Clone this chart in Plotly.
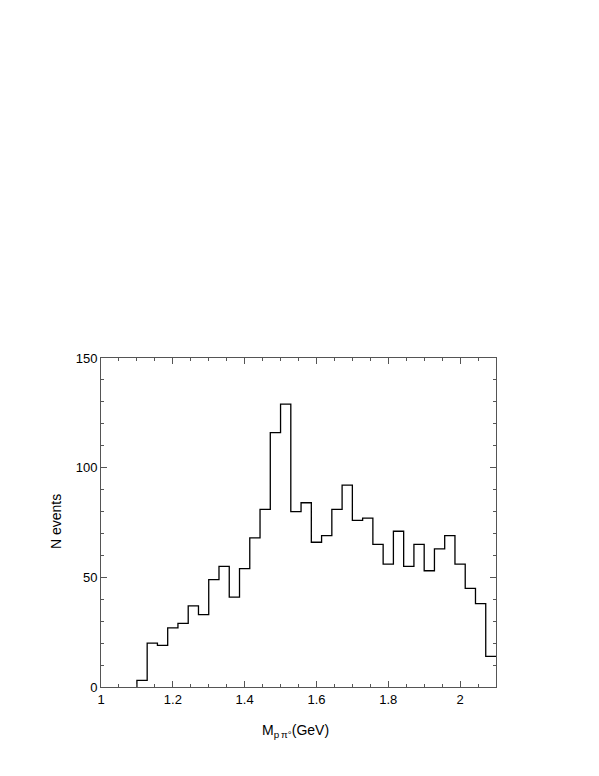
import numpy as np
import plotly.graph_objects as go

# Histogram of M(p pi0): 35 bins from 1.1 to 2.1 GeV
bin_low = 1.1
bin_high = 2.1
counts = [3, 20, 19, 27, 29, 37, 33, 49, 55, 41, 54, 68, 81, 116, 129,
          80, 84, 66, 69, 81, 92, 76, 77, 65, 56, 71, 55, 65, 53, 63,
          69, 56, 45, 38, 14]
x_tick_vals = [1, 1.2, 1.4, 1.6, 1.8, 2]
x_tick_text = ["1", "1.2", "1.4", "1.6", "1.8", "2"]
y_tick_vals = [0, 50, 100, 150]

n = len(counts)
edges = np.linspace(bin_low, bin_high, n + 1)
xs = [edges[0]] + list(edges)
ys = [0] + counts + [counts[-1]]

FONT = "Liberation Sans, Arial, sans-serif"

fig = go.Figure()
fig.add_trace(go.Scatter(x=xs, y=ys, mode="lines", line=dict(shape="hv", color="black", width=1.3),
                         hoverinfo="skip", showlegend=False))

axis_common = dict(showgrid=False, zeroline=False, showline=True, linecolor="#555555", linewidth=1,
                   mirror="ticks", ticks="inside", tickcolor="#555555", tickwidth=1,
                   tickfont=dict(family=FONT, size=13, color="black"))

# page -> paper coordinates (page has an 8px body margin)
L, R, T, B = 101, 496, 358, 687


def px(x):
    return (x - L) / (R - L)


def py(y):
    return (B - y) / (B - T)


fig.update_layout(
    width=599, height=776,
    margin=dict(l=L - 8, r=599 - (R - 8), t=T - 8, b=776 - (B - 8)),
    paper_bgcolor="white", plot_bgcolor="white",
    xaxis=dict(range=[1, 2.1], tickmode="array", tickvals=x_tick_vals,
               ticktext=x_tick_text, ticklen=6,
               minor=dict(dtick=0.05, ticks="inside", ticklen=3, tickcolor="#555555", showgrid=False),
               **axis_common),
    yaxis=dict(range=[0, 150], tickmode="array", tickvals=y_tick_vals, ticklen=6,
               minor=dict(dtick=10, ticks="inside", ticklen=3, tickcolor="#555555", showgrid=False),
               **axis_common),
    font=dict(family=FONT, size=14, color="black"),
    annotations=[
        dict(text="N events", x=px(56), y=py(522), xref="paper", yref="paper", showarrow=False,
             textangle=-90, xanchor="center", yanchor="middle", font=dict(family=FONT, size=14)),
        dict(text="M<sub>p\u2009\u03c0\u00b0</sub>(GeV)", x=px(260), y=py(731), xref="paper",
             yref="paper", showarrow=False, xanchor="left", yanchor="middle",
             font=dict(family=FONT, size=14)),
    ],
)

fig.write_html("out.html")
